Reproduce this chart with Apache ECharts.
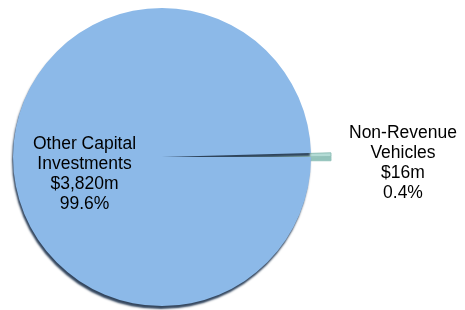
<!DOCTYPE html>
<html>
<head>
<meta charset="utf-8">
<script src="https://cdn.jsdelivr.net/npm/echarts@6/dist/echarts.min.js"></script>
<style>html,body{margin:0;padding:0;background:#fff}#c{width:465px;height:310px}</style>
</head>
<body>
<div id="c"></div>
<script>
const categories = ['Non-Revenue Vehicles', 'Other Capital Investments'];
const labelLines = [['Non-Revenue', 'Vehicles'], ['Other Capital', 'Investments']];
const values = [16, 3820];
const percents = ['0.4%', '99.6%'];
const amountLabels = ['$16m', '$3,820m'];

const chart = echarts.init(document.getElementById('c'), null, {renderer: 'canvas'});
const font = {fontFamily: 'Liberation Sans, Arial, sans-serif', fontSize: 17.5, color: '#000', lineHeight: 20};

const data = categories.map((name, i) => {
  const lines = labelLines[i].concat([amountLabels[i], percents[i]]);
  const isSmall = i === 0;
  return {
    name: name,
    value: values[i],
    selected: isSmall,
    itemStyle: isSmall ? {
      color: '#b3dbd5', borderColor: '#8fbfb7', borderWidth: 1,
      shadowColor: '#93c3bb', shadowBlur: 0, shadowOffsetX: 0, shadowOffsetY: 4
    } : {
      color: '#8cb9e8', shadowColor: 'rgba(40,60,85,0.95)', shadowBlur: 2, shadowOffsetX: -1, shadowOffsetY: 3
    },
    label: isSmall ? {
      position: 'outside',
      formatter: lines.map(l => '{a|' + l + '}').join('\n'),
      rich: {a: Object.assign({}, font, {width: 118, align: 'center'})}
    } : {
      position: 'inside',
      formatter: lines.join('\n'),
      offset: [0, 16],
      ...font
    },
    labelLine: {show: false}
  };
});

chart.setOption({
  animation: false,
  series: [{
    type: 'pie',
    center: [162, 157],
    radius: 149,
    startAngle: 1.5,
    clockwise: true,
    selectedMode: 'single',
    selectedOffset: 20,
    avoidLabelOverlap: false,
    labelLine: {show: false, length: 8, length2: 0},
    labelLayout: function (params) {
      if (params.dataIndex === 0) return {dy: 8};
      return {};
    },
    emphasis: {disabled: true},
    data: data
  }]
});
</script>
</body>
</html>
